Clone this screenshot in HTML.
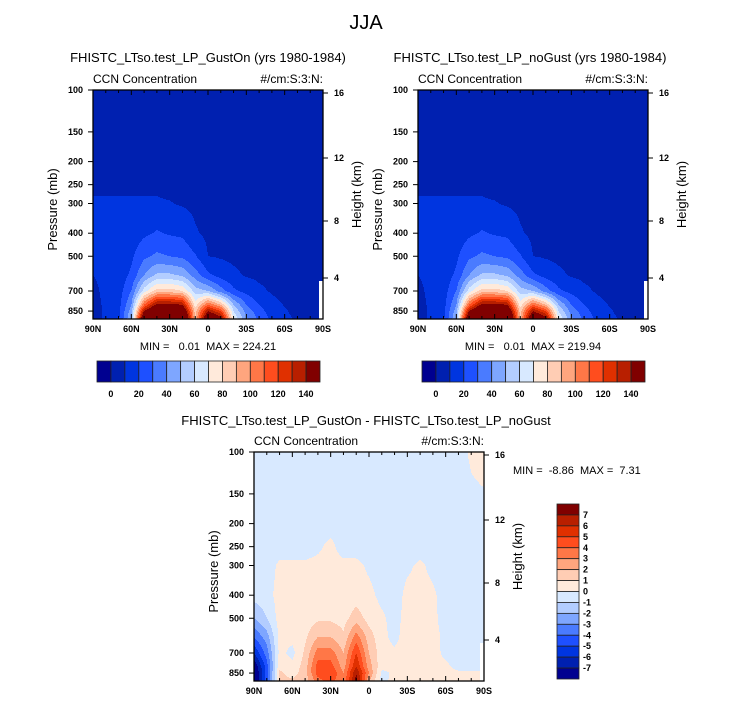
<!DOCTYPE html>
<html><head><meta charset="utf-8">
<style>
body{margin:0;background:#fff;}
svg{display:block;font-family:"Liberation Sans",Arial,sans-serif;}
text{white-space:pre;}
</style></head>
<body>
<svg id="fig" width="732" height="706" viewBox="0 0 732 706" xmlns="http://www.w3.org/2000/svg">
<text x="366" y="29" font-size="20" text-anchor="middle">JJA</text>
<g id="plots"></g>
</svg>
<script>
// ---- data ----
const latitudes=[90,80,70,60,50,40,30,20,10,0,-10,-20,-30,-40,-50,-60,-70,-80,-90];
const pressureLevels=[100,200,260,300,400,500,600,700,800,850,920];
const levelsCCN=[0,10,20,30,40,50,60,70,80,90,100,110,120,130,140];
const levelsDiff=[-7,-6,-5,-4,-3,-2,-1,0,1,2,3,4,5,6,7];
const colorTicksCCN=[0,20,40,60,80,100,120,140];
const colorTicksDiff=[7,6,5,4,3,2,1,0,-1,-2,-3,-4,-5,-6,-7];
const latLabels=['90N','60N','30N','0','30S','60S','90S'];
const pressureTicks=[100,150,200,250,300,400,500,700,850];
const heightTicks=['16','12','8','4'];
// rows per latitude: values at pressureLevels
const ccnGustOn=[
[3,5,9,11,12,12,10,7,6,5,5],
[3,5,9,11,12,13,13,13,12,12,12],
[3,5,9,11,12,13,14,15,16,17,18],
[3,5,9,11,14,18,22,30,40,45,50],
[3,5,9,11,18,28,40,65,110,140,170],
[3,5,9,11,21,32,52,85,145,170,200],
[3,5,8,10.5,19,30,52,85,145,170,200],
[3,5,7,9,18,28,48,80,140,165,190],
[3,4,6,8,11,21,35,55,75,85,90],
[3,4,5,6,8,10,22,50,110,140,170],
[3,4,5,6,7,9,16,35,90,120,150],
[3,4,5,6,7,8,12,22,50,60,70],
[3,4,5,5,6,7,9,17,30,36,42],
[3,4,4,5,6,7,8,12,20,24,28],
[3,4,4,5,5,6,7,9,13,15,18],
[3,3,4,4,5,5,6,7,9.5,11,13],
[3,3,4,4,5,5,5,6,7,7,8],
[3,3,3,4,4,4,5,5,5,5,5],
[3,3,3,4,4,4,5,null,null,null,null]];
const ccnNoGust=[
[3,5,9,11,12,12,10,7,6,5,5],
[3,5,9,11,12,13,13,13,12,12,12],
[3,5,9,11,12,13,14,15,16,17,18],
[3,5,9,11,14,18,22,30,40,45,50],
[3,5,9,11,18,28,40,65,110,140,170],
[3,5,9,11,21,32,52,85,145,170,200],
[3,5,8,10.5,19,30,52,85,145,170,200],
[3,5,7,9,18,28,48,80,140,165,190],
[3,4,6,8,11,21,35,55,75,85,90],
[3,4,5,6,8,10,22,50,110,140,170],
[3,4,5,6,7,9,16,35,90,120,150],
[3,4,5,6,7,8,12,22,50,60,70],
[3,4,5,5,6,7,9,17,30,36,42],
[3,4,4,5,6,7,8,12,20,24,28],
[3,4,4,5,5,6,7,9,13,15,18],
[3,3,4,4,5,5,6,7,9.5,11,13],
[3,3,4,4,5,5,5,6,7,7,8],
[3,3,3,4,4,4,5,5,5,5,5],
[3,3,3,4,4,4,5,null,null,null,null]];
const diffLevelsP=[100,200,250,300,400,500,600,700,800,850,920];
const ccnDiff=[
[-0.5,-0.5,-0.5,-0.5,-0.6,-2,-4,-6,-8,-8.5,-8.5],
[-0.5,-0.5,-0.5,-0.5,-0.4,-1,-2.5,-3.5,-4.5,-4.5,-4.5],
[-0.5,-0.5,-0.5,0.2,0.4,0.4,0.3,0.3,0.8,1.2,1.2],
[-0.5,-0.5,-0.5,0.2,0.4,0.4,0.3,-0.3,0.3,0.6,1.2],
[-0.5,-0.5,-0.5,0.2,0.4,0.5,0.8,1.2,1.5,1.5,1.5],
[-0.5,-0.5,-0.2,0.3,0.5,0.8,2,3.5,4.5,4.5,3.5],
[-0.5,-0.5,0.3,0.4,0.5,0.8,2,3.5,4.5,5,4.5],
[-0.5,-0.5,-0.5,0.3,0.4,0.6,1.2,2,2.5,3,3],
[-0.5,-0.5,-0.5,0.3,0.5,1.5,3.5,5,6,7,7.5],
[-0.5,-0.5,-0.5,-0.2,0.3,0.6,1.5,2,2.5,3,2],
[-0.5,-0.5,-0.5,-0.5,-0.3,0.2,0.3,0.4,0.3,-0.3,-0.3],
[-0.5,-0.5,-0.5,-0.5,-0.5,-0.4,-0.3,0.2,0.3,0.2,0.3],
[-0.5,-0.5,-0.5,-0.2,0.3,0.4,0.5,0.5,0.4,0.3,0.3],
[-0.5,-0.5,-0.5,0.2,0.4,0.5,0.5,0.5,0.4,0.4,0.4],
[-0.5,-0.5,-0.5,-0.3,0.2,0.3,0.4,0.3,0.3,0.3,0.3],
[-0.5,-0.5,-0.5,-0.5,-0.5,-0.5,-0.3,-0.2,0.2,0.3,0.3],
[-0.5,-0.5,-0.5,-0.5,-0.5,-0.5,-0.5,-0.4,-0.3,0.2,0.3],
[0.2,-0.5,-0.5,-0.5,-0.5,-0.5,-0.5,-0.5,-0.3,0.2,0.2],
[0.5,-0.5,-0.5,-0.5,-0.5,-0.5,-0.5,null,null,null,null]];
const palette=['#000090','#0020b0','#0035e0','#1e50ff','#4a7bff','#7ea6ff','#b3cdff','#d8e9ff','#ffeadb','#ffcdb4','#ffa57e','#ff7747','#ff4d1e','#e03000','#b81f00','#800000'];

const NS='http://www.w3.org/2000/svg';
const root=document.getElementById('plots');
function mk(tag,attrs,parent){const e=document.createElementNS(NS,tag);for(const k in attrs)e.setAttribute(k,attrs[k]);(parent||root).appendChild(e);return e;}
function txt(x,y,s,size,anchor,parent,extra){const t=mk('text',Object.assign({x:x,y:y,'font-size':size,'text-anchor':anchor||'start'},extra||{}),parent);t.textContent=s;return t;}

const W=230,H=229,PB=103.3;
function yOfP(p,y0){return y0+PB*Math.log(p/100);}
function pOfY(y,y0){return 100*Math.exp((y-y0)/PB);}
function xOfLat(lat,x0){return x0+(90-lat)/180*W;}

function sample(data,plev,lat,p){
  let fi=(90-lat)/10; let i=Math.min(Math.floor(fi),latitudes.length-2); let tx=fi-i;
  let j=0; while(j<plev.length-2 && p>plev[j+1]) j++;
  let ty=(Math.log(p)-Math.log(plev[j]))/(Math.log(plev[j+1])-Math.log(plev[j]));
  ty=Math.max(0,Math.min(1,ty));
  let a=data[i][j],b=data[i+1][j],c=data[i][j+1],d=data[i+1][j+1];
  // missing values: white only very close to the missing column
  if(b===null||d===null){ if(tx>0.7 && (d===null && (b===null||ty>0.4))) return null; if(b===null)b=a; if(d===null)d=c; }
  if(a===null)a=b; if(c===null)c=d;
  return (a*(1-tx)+b*tx)*(1-ty)+(c*(1-tx)+d*tx)*ty;
}
function colorIdx(v,levels){let k=0;for(const l of levels) if(v>=l) k++;return k;}

function drawPlot(x0,y0,data,plev,levels,name,title,titleX,titleY){
  const g=mk('g',{});
  
  
  const t=txt(titleX,titleY,title,13,'middle',g);
  
  
  const field=mk('g',{},g);
  
  
  const step=1;
  for(let yy=0;yy<H;yy+=step){
    const p=pOfY(y0+yy+step/2,y0);
    let runStart=0,runCol=null;
    for(let xx=0;xx<=W;xx++){
      let col=null;
      if(xx<W){const lat=90-(xx+0.5)/W*180;const v=sample(data,plev,lat,p);col=v===null?'#ffffff':palette[colorIdx(v,levels)];}
      if(col!==runCol){
        if(runCol!==null){const r=mk('rect',{x:x0+runStart,y:y0+yy,width:xx-runStart,height:step+0.3,fill:runCol},field);
          
          }
        runStart=xx;runCol=col;
      }
    }
  }
  const fr=mk('rect',{x:x0,y:y0,width:W,height:H,fill:'none',stroke:'#000','stroke-width':1.3},g);
  
  
  const l1=txt(x0,y0-7,'CCN Concentration',12,'start',g);
  
  
  const l2=txt(x0+W,y0-7,'#/cm:S:3:N:',12,'end',g);
  
  
  for(let lat=90;lat>=-90;lat-=10){
    const x=xOfLat(lat,x0);const major=lat%30===0;const len=major?5:3;
    mk('line',{x1:x,y1:y0,x2:x,y2:y0+len,stroke:'#000','stroke-width':1},g);
    mk('line',{x1:x,y1:y0+H,x2:x,y2:y0+H-len,stroke:'#000','stroke-width':1},g);
  }
  latLabels.forEach((s,i)=>{const tl=txt(x0+i*W/6,y0+H+13,s,9,'middle',g,{'font-weight':'bold'});
    
    });
  pressureTicks.forEach(p=>{const y=yOfP(p,y0);
    mk('line',{x1:x0,y1:y,x2:x0-5,y2:y,stroke:'#000','stroke-width':1},g);
    const tl=txt(x0-10,y+3,String(p),9,'end',g,{'font-weight':'bold'});
    
    });
  const yl=txt(0,0,'Pressure (mb)',13,'middle',g,{transform:`translate(${x0-36},${y0+H/2+5}) rotate(-90)`});
  
  
  const hOff=[3,68,131,188];
  heightTicks.forEach((s,i)=>{const y=y0+hOff[i];
    mk('line',{x1:x0+W,y1:y,x2:x0+W+5,y2:y,stroke:'#000','stroke-width':1},g);
    const tl=txt(x0+W+11,y+3,s,9,'start',g,{'font-weight':'bold'});
    
    });
  const hl=txt(0,0,'Height (km)',13,'middle',g,{transform:`translate(${x0+W+38},${y0+H/2-10}) rotate(-90)`});
  
  
  return g;
}

function hColorbar(x0,y0,g){
  const cb=mk('g',{},g);
  
  
  const bw=223/palette.length;
  palette.forEach((c,i)=>{const r=mk('rect',{x:x0+i*bw,y:y0,width:bw,height:21,fill:c,stroke:'#222','stroke-width':0.8},cb);
    
    });
  colorTicksCCN.forEach(v=>{const k=levelsCCN.indexOf(v);const t=txt(x0+(k+1)*bw,y0+36,String(v),9,'middle',cb,{'font-weight':'bold'});
    
    });
}

const gL=drawPlot(93,90,ccnGustOn,pressureLevels,levelsCCN,'plot-gust-on','FHISTC_LTso.test_LP_GustOn (yrs 1980-1984)',208,62);
const m1=txt(208,350,'MIN =   0.01  MAX = 224.21',11,'middle',gL);


hColorbar(97,361,gL);
const gR=drawPlot(418,90,ccnNoGust,pressureLevels,levelsCCN,'plot-no-gust','FHISTC_LTso.test_LP_noGust (yrs 1980-1984)',530,62);
const m2=txt(533,350,'MIN =   0.01  MAX = 219.94',11,'middle',gR);


hColorbar(422,361,gR);
const gD=drawPlot(254,452,ccnDiff,diffLevelsP,levelsDiff,'plot-difference','FHISTC_LTso.test_LP_GustOn - FHISTC_LTso.test_LP_noGust',366,425);
const m3=txt(513,474,'MIN =  -8.86  MAX =  7.31',11,'start',gD);


const vcb=mk('g',{},gD);


const bh=175/palette.length;
palette.slice().reverse().forEach((c,i)=>{const r=mk('rect',{x:557,y:504+i*bh,width:22,height:bh,fill:c,stroke:'#222','stroke-width':0.8},vcb);
  
  });
colorTicksDiff.forEach((v,i)=>{const t=txt(583,504+(i+1)*bh+3,String(v),9,'start',vcb,{'font-weight':'bold'});
  
  });
</script>
</body></html>
